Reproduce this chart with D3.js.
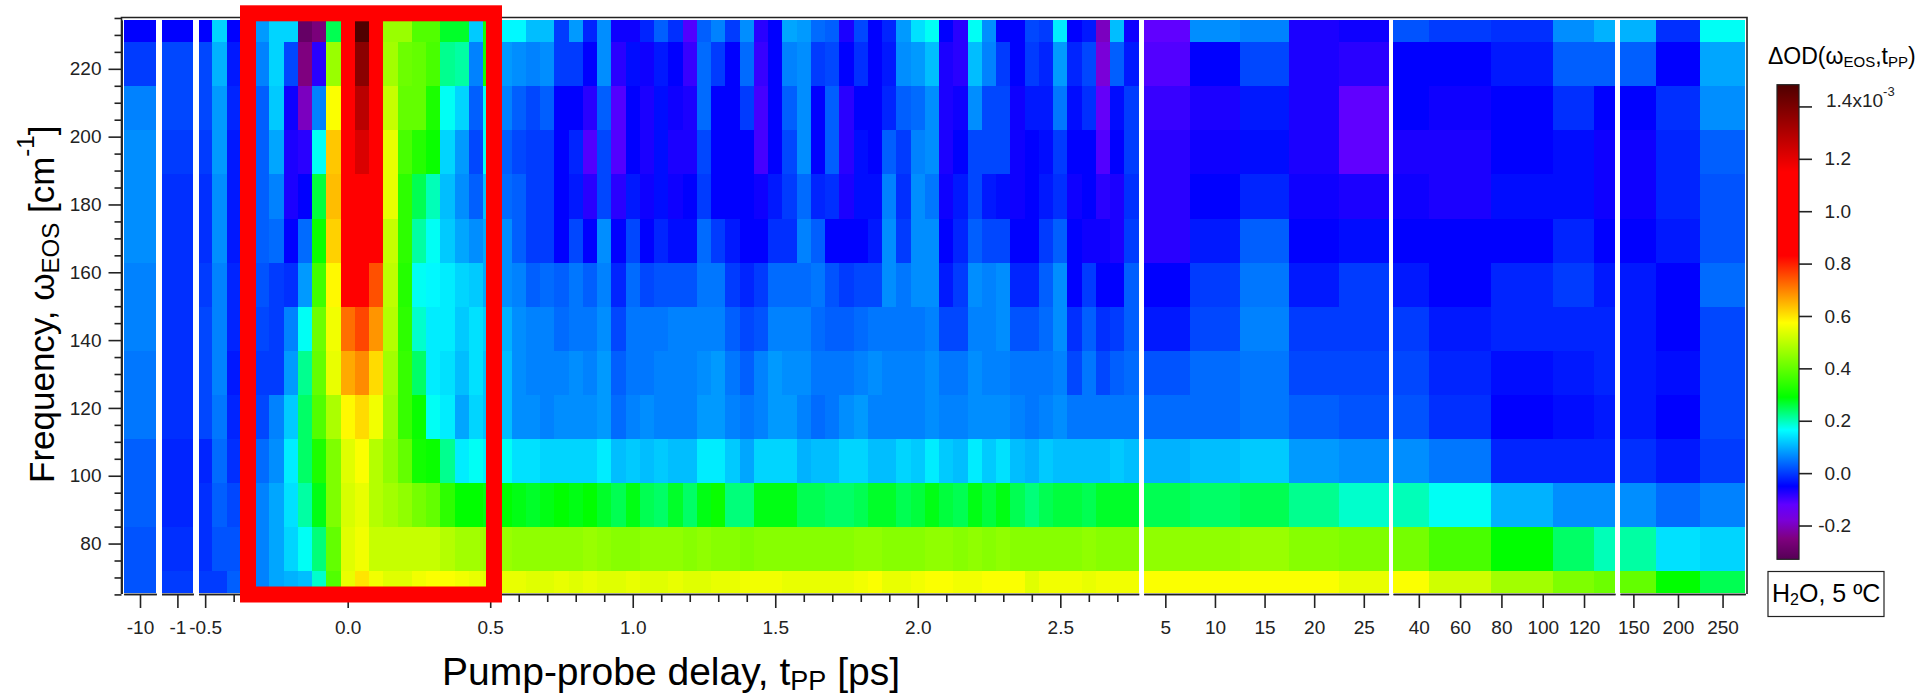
<!DOCTYPE html>
<html lang="en">
  <head>
    <meta charset="utf-8" />
    <script src="https://d3js.org/d3.v7.min.js"></script>
    <style>
      html,
      body {
        margin: 0;
        background: white;
      }

      svg {
        display: block;
        font-family: "Liberation Sans", Arial, sans-serif;
      }

      .axis text {
        font-size: 19px;
        fill: #222;
      }

      .axis line,
      .axis path {
        stroke: #222;
        stroke-width: 1.6px;
      }
    </style>
    <title>Pump-probe delay map</title>
  </head>

  <body>
    <svg id="map" width="1917" height="698"></svg>

    <script>
      // delays in ps, the axis is broken so each list gets its own scale
      const delaysFar = [-10];
      const delaysNear = [-1];
      const delaysFine = [
        -0.5, -0.45, -0.4, -0.35, -0.3, -0.25, -0.2, -0.15, -0.1, -0.05, 0, 0.05,
        0.1, 0.15, 0.2, 0.25, 0.3, 0.35, 0.4, 0.45, 0.5, 0.55, 0.6, 0.65, 0.7,
        0.75, 0.8, 0.85, 0.9, 0.95, 1, 1.05, 1.1, 1.15, 1.2, 1.25, 1.3, 1.35,
        1.4, 1.45, 1.5, 1.55, 1.6, 1.65, 1.7, 1.75, 1.8, 1.85, 1.9, 1.95, 2,
        2.05, 2.1, 2.15, 2.2, 2.25, 2.3, 2.35, 2.4, 2.45, 2.5, 2.55, 2.6, 2.65,
        2.7, 2.75,
      ];
      const delaysLate = [5, 10, 15, 20, 25];
      const delaysLater = [30, 60, 90, 120, 130];
      const delaysLatest = [150, 200, 250];

      const frequencies = [
        234.4, 221.4, 208.4, 195.4, 182.4, 169.3, 156.3, 143.3, 130.3, 117.3,
        104.3, 91.3, 78.3, 65.3,
      ];

      // delta OD per frequency, in units of 1e-5
      const row234 = [
        -5, -5, -5, 13, -5, 0, 8, 13, 13, -30, -26, 25, 95, 148, 110, 46, 46, 38, 38, 27, 27, 12, 31, 16, 16, 11,
        11, 0, 8, -2, 7, -6, -6, -2, 3, -1, -11, 3, 6, 0, 7, -8, -5, 9, 8, 4, 3, -7, 1, -5, -2, 8, 14, 17, -5, -8, 17, 7, -5, -5, 1, 0, 15, -5, -3, -20, 11, -6,
        -12, 7, 6, -7, -6, 2, 0, -1, 7, 10, 10, -1, 17,
      ];
      const row221 = [
        0, 1, 1, 10, -3, 1, 6, 13, 1, -25, -8, 46, 100, 137, 110, 47, 41, 40, 37, 22, 21, 6, 31, 8, 7, 6,
        7, 0, 0, -5, 7, -8, -4, -6, -3, -5, -9, 4, 0, -5, 4, -9, -5, 6, 7, 0, 1, -5, -1, -5, -3, 7, 8, 11, -7, -8, 11, 6, 0, -5, 0, -2, 8, -2, 1, -18, 3, -3,
        -11, -5, 1, -7, -8, -5, -5, -3, 3, 3, 3, -5, 9,
      ];
      const row208 = [
        6, 1, 1, 8, -2, 1, 3, 12, -6, -20, 6, 57, 105, 128, 105, 51, 40, 40, 32, 17, 13, 3, 17, 6, 3, 1,
        3, -5, -5, -8, 3, -11, -5, -7, -4, -6, -7, 4, -5, -5, 0, -10, -5, 3, 7, -5, 3, -8, -5, -5, -2, 3, 4, 7, -7, -6, 7, 1, 1, -6, -3, -3, 5, -4, -1, -13, -4, 0,
        -9, -7, -3, -7, -12, -5, -6, -5, -1, -5, -5, -1, 7,
      ];
      const row195 = [
        7, 0, 0, 8, -3, 0, 3, 9, -7, -8, 17, 63, 100, 122, 100, 55, 37, 33, 30, 13, 8, 1, 17, 3, 1, 0,
        0, -5, -2, -11, 1, -11, -5, -7, -4, -7, -7, 1, -5, -5, -5, -10, -5, 1, 7, -5, 3, -8, -4, -5, 3, 0, 6, 7, -7, -5, 1, 1, 1, -6, -5, -4, 0, -5, -5, -11, -5, 0,
        -8, -6, -4, -7, -12, -7, -7, -5, -4, -6, -6, -2, 3,
      ];
      const row182 = [
        7, -1, -1, 7, -3, 0, 3, 6, -7, -5, 26, 64, 95, 112, 95, 55, 34, 25, 20, 11, 7, 3, 11, 4, 3, 0,
        0, -5, -3, -8, 1, -8, -3, -6, -4, -6, -5, 0, -5, -5, -5, -6, -3, 0, 4, -2, -1, -7, -4, -4, 6, -1, 7, 5, -6, -3, 1, -3, -4, -6, -5, -3, -1, -6, -5, -8, -7, -1,
        -8, -5, -2, -6, -7, -6, -7, -4, -4, -6, -6, -2, 2,
      ];
      const row169 = [
        7, -1, -1, 7, -3, 0, 3, 4, -5, 4, 30, 62, 90, 105, 90, 51, 34, 21, 17, 12, 9, 7, 9, 7, 3, 0,
        0, -5, 1, -5, 7, -5, 1, -5, -2, -4, -4, 4, 0, -3, -5, -5, -1, -1, 6, 3, -5, -5, -5, -3, 7, 0, 7, 7, -5, -2, 3, 1, 1, -5, -5, 0, 3, -5, -6, -6, -7, 0,
        -8, -3, 3, -5, -4, -5, -5, -5, -2, -5, -5, -3, 2,
      ];
      const row156 = [
        6, -1, 0, 6, -2, 0, 2, 0, -1, 8, 36, 58, 84, 90, 75, 50, 33, 17, 16, 15, 13, 12, 9, 7, 6, 3,
        4, 3, 5, 3, 6, -2, 4, 1, 2, 2, 2, 5, 5, 0, -2, 0, 4, 4, 4, 5, 2, 0, 1, 1, 7, 5, 7, 7, -3, 0, 7, 6, 7, -2, -2, 3, 7, -5, 0, -5, -5, 3,
        -5, 0, 5, -3, 0, -3, -5, -2, 0, -3, -3, -5, 4,
      ];
      const row143 = [
        6, -1, 1, 6, -2, 0, 1, 0, 6, 17, 41, 56, 72, 76, 68, 49, 34, 19, 15, 15, 12, 14, 12, 10, 7, 6,
        6, 4, 5, 5, 7, 1, 5, 5, 5, 6, 6, 6, 6, 3, 1, 2, 6, 6, 6, 4, 3, 3, 4, 5, 5, 5, 5, 6, 1, 1, 6, 6, 7, 2, 2, 4, 7, -1, 3, -1, 0, 3,
        -3, 1, 6, 0, 0, 0, -3, -2, -2, -2, -3, -5, 1,
      ];
      const row130 = [
        5, -1, 1, 6, -3, 0, 0, 0, 8, 22, 40, 55, 66, 69, 61, 47, 35, 24, 15, 14, 11, 14, 11, 11, 7, 6,
        6, 6, 7, 6, 8, 3, 5, 5, 6, 6, 6, 7, 8, 5, 3, 6, 8, 7, 7, 5, 5, 5, 6, 7, 6, 6, 6, 7, 5, 5, 7, 6, 6, 5, 5, 5, 6, 1, 5, 1, 3, 4,
        2, 4, 5, 1, 1, 1, -2, -4, -3, -2, -3, -4, 1,
      ];
      const row117 = [
        5, -1, 1, 5, -2, 1, 1, 6, 12, 24, 38, 48, 58, 61, 56, 46, 35, 30, 17, 15, 9, 13, 11, 11, 7, 7,
        6, 7, 7, 7, 8, 4, 6, 7, 6, 6, 6, 8, 8, 6, 5, 6, 8, 8, 6, 4, 5, 7, 8, 6, 6, 6, 6, 7, 6, 6, 7, 7, 7, 6, 5, 6, 7, 5, 5, 5, 5, 5,
        4, 4, 5, 3, 2, 2, -1, -5, -4, -3, -3, -5, 1,
      ];
      const row104 = [
        3, -2, -2, 4, -1, 1, 4, 7, 15, 24, 32, 43, 54, 57, 49, 45, 40, 31, 30, 22, 15, 17, 15, 17, 14, 14,
        13, 13, 13, 13, 15, 11, 12, 11, 12, 11, 11, 15, 15, 12, 9, 13, 13, 13, 10, 11, 11, 13, 13, 11, 11, 13, 12, 15, 12, 11, 15, 12, 14, 11, 10, 12, 11, 11, 11, 11, 12, 11,
        10, 11, 12, 8, 7, 7, 5, -2, -2, -2, -1, -3, 0,
      ];
      const row91 = [
        3, -2, -1, 3, 1, 3, 6, 9, 14, 21, 28, 43, 53, 55, 49, 47, 45, 42, 40, 34, 29, 29, 28, 29, 28, 27,
        28, 29, 28, 29, 27, 25, 28, 25, 24, 27, 24, 28, 30, 23, 23, 28, 28, 28, 25, 25, 24, 24, 25, 27, 27, 25, 26, 28, 26, 25, 28, 26, 28, 25, 23, 25, 26, 26, 25, 27, 27, 27,
        25, 24, 25, 22, 19, 20, 17, 10, 7, 7, 7, 4, 6,
      ];
      const row78 = [
        2, -1, -1, 2, 2, 4, 6, 9, 13, 17, 23, 40, 54, 56, 51, 51, 51, 51, 51, 49, 47, 47, 46, 46, 45, 45,
        45, 45, 45, 46, 45, 44, 44, 45, 45, 45, 44, 45, 44, 44, 43, 44, 44, 44, 44, 44, 44, 44, 45, 45, 44, 44, 44, 45, 45, 44, 45, 44, 45, 44, 44, 44, 44, 44, 45, 44, 44, 44,
        45, 45, 46, 44, 43, 42, 37, 29, 24, 20, 21, 14, 13,
      ];
      const row65 = [
        2, 0, 0, 0, 3, 5, 6, 9, 10, 11, 19, 38, 55, 60, 56, 54, 54, 56, 57, 57, 56, 55, 54, 55, 55, 54,
        54, 55, 54, 55, 54, 54, 55, 54, 54, 55, 54, 54, 55, 55, 56, 56, 56, 55, 55, 55, 55, 55, 56, 57, 55, 55, 56, 57, 57, 56, 56, 57, 57, 57, 54, 56, 56, 56, 55, 56, 56, 56,
        57, 57, 57, 57, 55, 57, 52, 47, 43, 41, 40, 29, 25,
      ];

      const freqMajor = [80, 100, 120, 140, 160, 180, 200, 220];
      const freqMinor = [
        65, 70, 75, 85, 90, 95, 105, 110, 115, 125, 130, 135, 145, 150, 155, 165,
        170, 175, 185, 190, 195, 205, 210, 215, 225, 230, 235,
      ];
      const fineMajor = [-0.5, 0, 0.5, 1, 1.5, 2, 2.5];
      const fineMinor = [
        -0.4, -0.3, -0.2, -0.1, 0.1, 0.2, 0.3, 0.4, 0.6, 0.7, 0.8, 0.9, 1.1, 1.2,
        1.3, 1.4, 1.6, 1.7, 1.8, 1.9, 2.1, 2.2, 2.3, 2.4, 2.6, 2.7,
      ];
      const barTicks = [-0.2, 0, 0.2, 0.4, 0.6, 0.8, 1, 1.2, 1.4];

      const rows = [
        row234, row221, row208, row195, row182, row169, row156, row143, row130,
        row117, row104, row91, row78, row65,
      ];

      // toFixed keeps the plain hyphen of the reference, d3.format would not
      const wholeLabel = d => String(d);
      const tenthLabel = d => d.toFixed(1);

      // one entry per piece of the broken x axis
      const parts = [
        { delays: delaysFar, domain: [-10.5, -9.5], range: [123.7, 156.3], major: [-10], minor: [], format: wholeLabel },
        { delays: delaysNear, domain: [-1.5, -0.5], range: [161.5, 193.3], major: [-1], minor: [], format: wholeLabel },
        { delays: delaysFine, domain: [-0.523, 2.775], range: [198.6, 1138.7], major: fineMajor, minor: fineMinor, format: tenthLabel },
        { delays: delaysLate, domain: [2.82, 27.5], range: [1143.7, 1388.6], major: delaysLate, minor: [], format: wholeLabel },
        { delays: delaysLater, domain: [27.5, 135], range: [1393, 1615], major: [40, 60, 80, 100, 120], minor: [], format: wholeLabel },
        { delays: delaysLatest, domain: [135, 275.5], range: [1620, 1745.3], major: delaysLatest, minor: [], format: wholeLabel },
      ];

      const svg = d3.select("svg#map");

      const freqScale = d3
        .scaleLinear()
        .domain([65.3, 234.4])
        .range([593.4, 20]);

      // rainbow of the colour bar, in the same 1e-5 units as the rows
      const colorScale = d3
        .scaleLinear()
        .domain([-33, -25, -18, -12, -5, 16.5, 29, 57.4, 83, 115, 148])
        .range([
          "#550055", "#7f007f", "#7a00d8", "#6000ff", "#0000ff", "#00ffff",
          "#00ff00", "#ffff00", "#ff0000", "#ff0000", "#500000",
        ])
        .clamp(true);

      // edges halfway between neighbours, clipped to the ends of the list
      function edges(values, domain) {
        return values.map((v, i) => [
          i === 0 ? domain[0] : (values[i - 1] + v) / 2,
          i === values.length - 1 ? domain[1] : (v + values[i + 1]) / 2,
        ]);
      }

      const freqEdges = edges(frequencies.slice().reverse(), [65.3, 234.4]).reverse();

      const heat = svg.append("g").attr("id", "heat");
      let columnOffset = 0;

      parts.forEach(part => {
        const x = d3.scaleLinear().domain(part.domain).range(part.range);
        const xEdges = edges(part.delays, part.domain);
        const cells = [];
        rows.forEach((row, r) => {
          part.delays.forEach((delay, c) => {
            cells.push({
              x0: xEdges[c][0],
              x1: xEdges[c][1],
              y0: freqEdges[r][1],
              y1: freqEdges[r][0],
              value: row[columnOffset + c],
            });
          });
        });
        columnOffset += part.delays.length;

        heat
          .append("g")
          .selectAll("rect")
          .data(cells)
          .join("rect")
          .attr("x", d => x(d.x0))
          .attr("y", d => freqScale(d.y0))
          .attr("width", d => x(d.x1) - x(d.x0))
          .attr("height", d => freqScale(d.y1) - freqScale(d.y0))
          .attr("fill", d => colorScale(d.value))
          .attr("shape-rendering", "crispEdges");

        svg
          .append("g")
          .attr("class", "axis")
          .attr("transform", "translate(0,594)")
          .call(
            d3.axisBottom(x).tickValues(part.minor).tickSize(8).tickFormat("").tickSizeOuter(0)
          );

        svg
          .append("g")
          .attr("class", "axis")
          .attr("transform", "translate(0,594)")
          .call(
            d3
              .axisBottom(x)
              .tickValues(part.major)
              .tickSize(14)
              .tickSizeOuter(0)
              .tickPadding(13)
              .tickFormat(part.format)
          );
      });

      // left axis, major and minor ticks
      svg
        .append("g")
        .attr("class", "axis")
        .attr("transform", "translate(121.5,0)")
        .call(d3.axisLeft(freqScale).tickValues(freqMinor).tickSize(7).tickFormat("").tickSizeOuter(0));

      svg
        .append("g")
        .attr("class", "axis")
        .attr("transform", "translate(121.5,0)")
        .call(d3.axisLeft(freqScale).tickValues(freqMajor).tickSize(13).tickSizeOuter(0).tickPadding(7));

      // frame around the map
      svg
        .append("path")
        .attr("d", "M121.5,594V17.5H1747V594")
        .attr("fill", "none")
        .attr("stroke", "#222")
        .attr("stroke-width", 1.6);

      // red box goes over everything
      svg
        .append("rect")
        .attr("x", 248)
        .attr("y", 13.3)
        .attr("width", 246)
        .attr("height", 581.2)
        .attr("fill", "none")
        .attr("stroke", "#ff0000")
        .attr("stroke-width", 16);

      // titles, pieces are [text, "sub" | "sup" | undefined]
      function addPieces(text, pieces, subSize) {
        const shiftOf = kind => (kind === "sub" ? 0.2 : kind === "sup" ? -0.85 : 0) * subSize;
        pieces.forEach(([piece, kind], i) => {
          const prev = i > 0 ? pieces[i - 1][1] : undefined;
          text
            .append("tspan")
            .attr("dy", shiftOf(kind) - shiftOf(prev))
            .attr("font-size", kind ? subSize : null)
            .text(piece);
        });
      }

      svg
        .append("text")
        .attr("x", 442)
        .attr("y", 685)
        .attr("font-size", 39)
        .attr("fill", "black")
        .call(addPieces, [["Pump-probe delay, t"], ["PP", "sub"], [" [ps]"]], 27);

      svg
        .append("text")
        .attr("transform", "translate(54,483) rotate(-90)")
        .attr("font-size", 35)
        .attr("fill", "black")
        .call(addPieces, [["Frequency, ω"], ["EOS", "sub"], [" [cm"], ["-1", "sup"], ["]"]], 24);

      svg
        .append("text")
        .attr("x", 1768)
        .attr("y", 64.4)
        .attr("font-size", 23)
        .attr("fill", "black")
        .call(addPieces, [["ΔOD(ω"], ["EOS", "sub"], [",t"], ["PP", "sub"], [")"]], 15);

      // colour bar, drawn from the colour scale
      const barScale = d3.scaleLinear().domain([-0.329, 1.483]).range([559.3, 84.7]);
      const gradient = svg
        .append("defs")
        .append("linearGradient")
        .attr("id", "barFill")
        .attr("x1", 0)
        .attr("x2", 0)
        .attr("y1", 1)
        .attr("y2", 0);

      gradient
        .selectAll("stop")
        .data(colorScale.domain())
        .join("stop")
        .attr("offset", d => (d / 100 + 0.329) / 1.812)
        .attr("stop-color", d => colorScale(d));

      svg
        .append("rect")
        .attr("x", 1777)
        .attr("y", barScale(1.483))
        .attr("width", 22)
        .attr("height", barScale(-0.329) - barScale(1.483))
        .attr("fill", "url(#barFill)")
        .attr("stroke", "#222")
        .attr("stroke-width", 1.2);

      const barAxis = svg
        .append("g")
        .attr("class", "axis")
        .attr("transform", "translate(1799,0)")
        .call(
          d3
            .axisRight(barScale)
            .tickValues(barTicks)
            .tickSize(13)
            .tickSizeOuter(0)
            .tickPadding(14)
            .tickFormat(tenthLabel)
        );

      barAxis.select(".domain").remove();

      barAxis
        .selectAll("text")
        .attr("text-anchor", "end")
        .attr("x", 52);

      barAxis
        .selectAll("text")
        .filter(d => d === 1.4)
        .attr("text-anchor", "start")
        .attr("x", 27)
        .text(null)
        .call(addPieces, [["1.4x10"], ["-3", "sup"]], 13);

      // sample label
      svg
        .append("rect")
        .attr("x", 1768)
        .attr("y", 571.5)
        .attr("width", 116)
        .attr("height", 45)
        .attr("fill", "white")
        .attr("stroke", "#222")
        .attr("stroke-width", 1.2);

      svg
        .append("text")
        .attr("x", 1772)
        .attr("y", 602)
        .attr("font-size", 25)
        .attr("fill", "black")
        .call(addPieces, [["H"], ["2", "sub"], ["O, 5 ºC"]], 16);
    </script>
  </body>
</html>
